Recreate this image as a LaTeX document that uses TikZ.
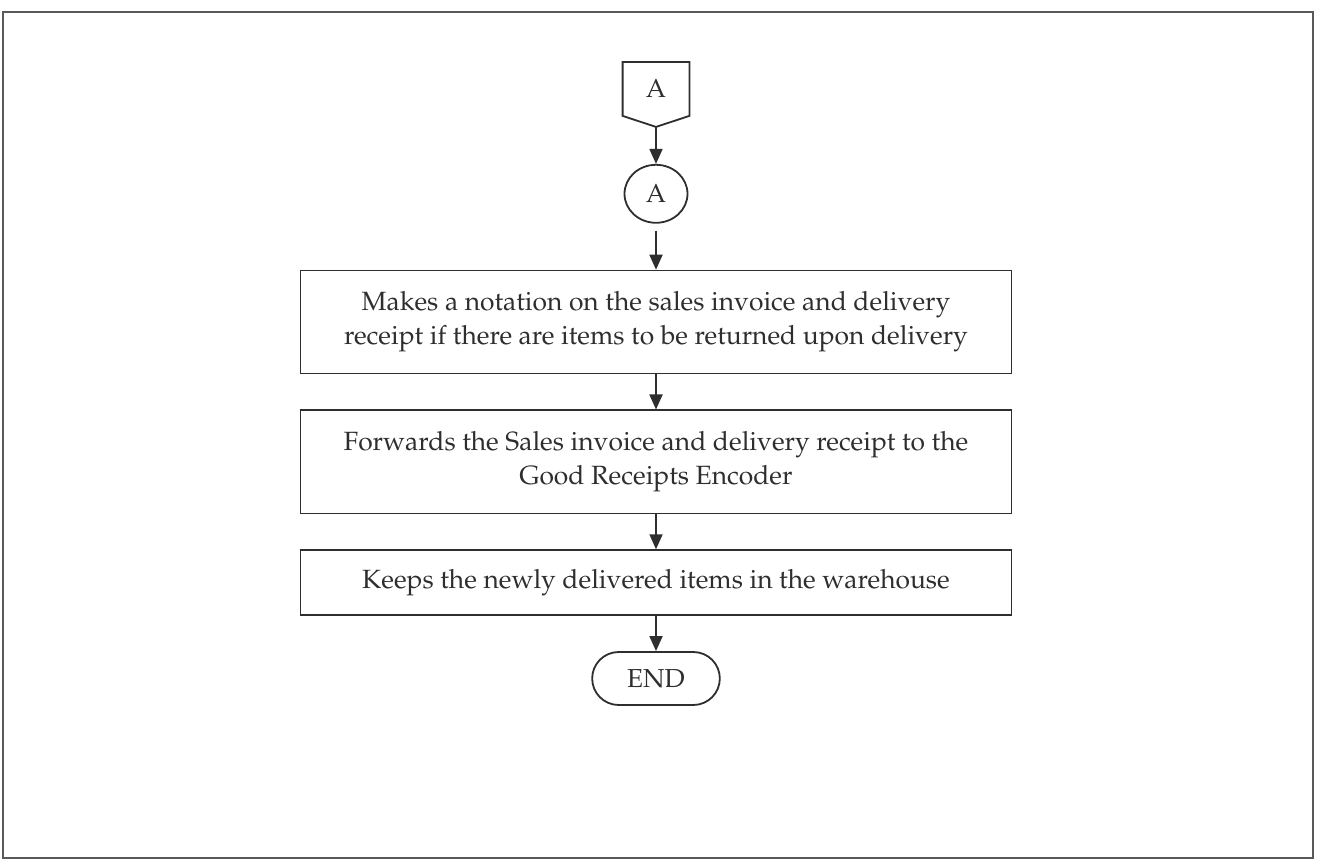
\documentclass[tikz,border=0pt]{standalone}
\usepackage[T1]{fontenc}
\usepackage{mathpazo}
\usetikzlibrary{positioning,calc,arrows.meta,shapes.geometric,shapes.misc}
\definecolor{ink}{HTML}{2E2E2E}
\definecolor{rim}{HTML}{595959}
\tikzset{>={Triangle[width=6.5pt,length=7.5pt]}}
\tikzset{
  box/.style={draw=ink,rectangle,minimum width=355.5pt,align=center,
    font=\fontsize{13.2}{17}\selectfont,text=ink},
  onpage/.style={draw=ink,ellipse,minimum width=31.5pt,minimum height=29pt,
    inner sep=0pt,font=\fontsize{13}{15}\selectfont,text=ink},
  offpage/.style={minimum width=32.5pt,minimum height=26pt,inner sep=0pt,
    font=\fontsize{13}{15}\selectfont,text=ink},
  terminal/.style={draw=ink,rounded rectangle,
    minimum width=70.5pt,minimum height=26.5pt,font=\fontsize{13}{15}\selectfont,text=ink}
}

\begin{document}
\begin{tikzpicture}[x=0.5pt,y=-0.5pt,node distance=17.5pt,line width=0.9pt]
    \useasboundingbox (0,0) rectangle (1318,861);
    \draw [rim] (3,12) rectangle (1313,858);
    \node [offpage] (offA) at (656,89) {A};
    \coordinate (offtip) at ([yshift=-5.5pt]offA.south);
    \draw [ink] (offA.north west) -- (offA.north east) -- (offA.south east)
          -- (offtip) -- (offA.south west) -- cycle;
    \node [onpage,below=24pt of offA] (conA) {A};
    \node [box,minimum height=51.5pt,below=23pt of conA] (mark)
          {Makes a notation on the sales invoice and delivery\\
           receipt if there are items to be returned upon delivery};
    \node [box,minimum height=51.5pt,below=of mark] (fwd)
          {Forwards the Sales invoice and delivery receipt to the\\
           Good Receipts Encoder};
    \node [box,minimum height=32.5pt,below=of fwd] (keep)
          {Keeps the newly delivered items in the warehouse};
    \node [terminal,below=of keep] (stop) {END};
    \path [->,color=ink] (offtip) edge (conA)
               (conA) edge [shorten <=3.5pt] (mark)
               (mark) edge (fwd)
               (fwd) edge (keep)
               (keep) edge (stop)
    ;
\end{tikzpicture}
\end{document}
